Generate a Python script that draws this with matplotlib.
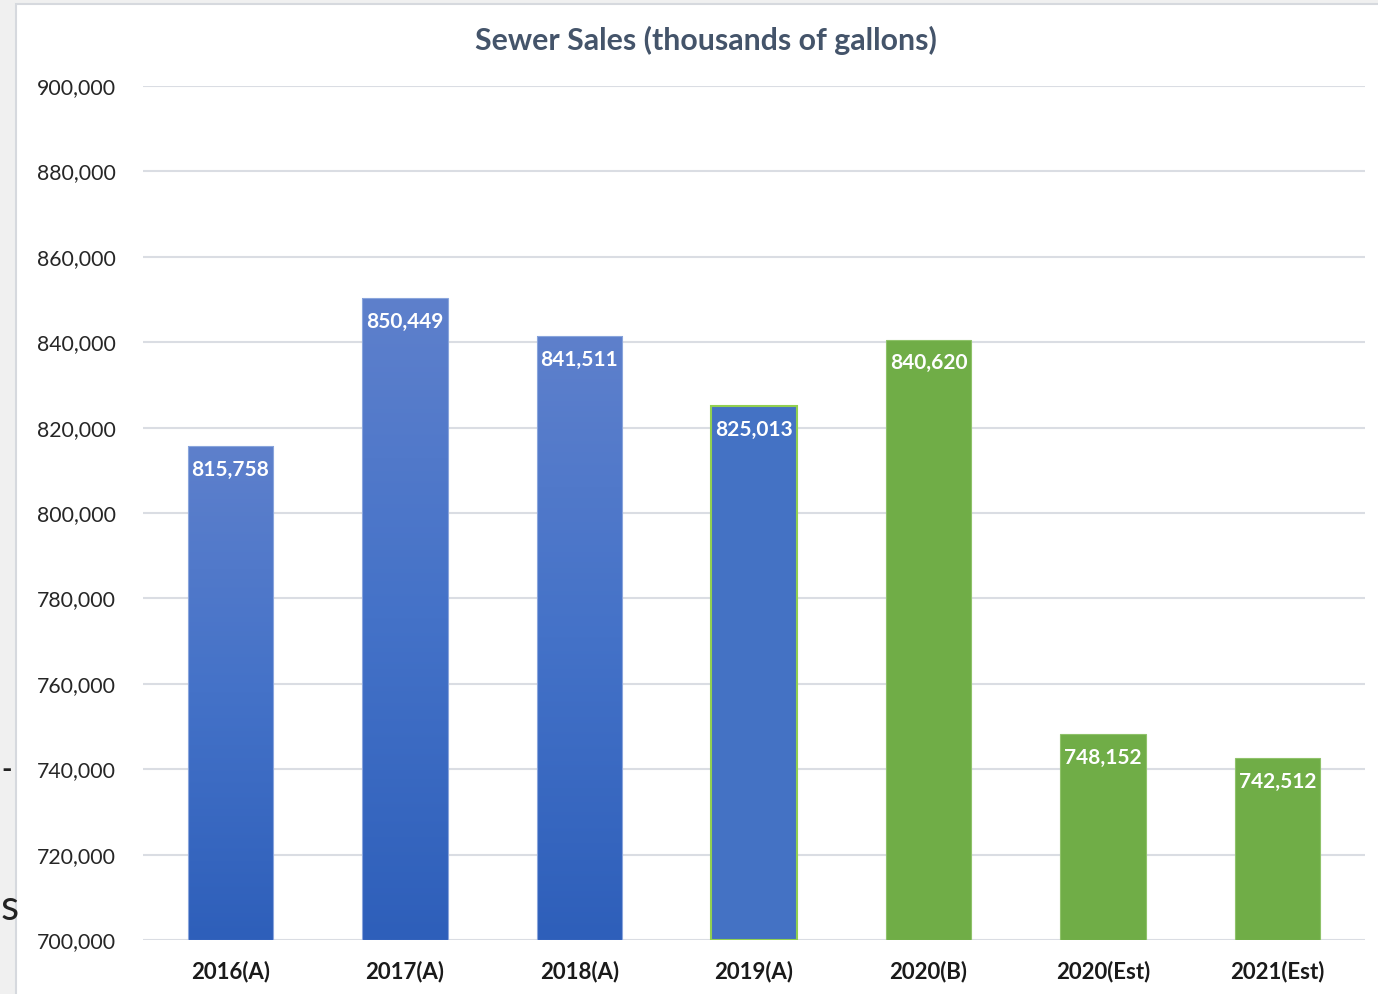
import matplotlib
matplotlib.use("Agg")
import matplotlib.pyplot as plt
import numpy as np
from matplotlib.patches import Rectangle
from matplotlib.colors import LinearSegmentedColormap

categories = ["2016(A)", "2017(A)", "2018(A)", "2019(A)", "2020(B)", "2020(Est)", "2021(Est)"]
values = [815758, 850449, 841511, 825013, 840620, 748152, 742512]
styles = ["gradient", "gradient", "gradient", "solid_blue", "green", "green", "green"]
yticks = list(range(700000, 900001, 20000))
title = "Sewer Sales (thousands of gallons)"

plt.rcParams['font.family'] = ['Lato', 'DejaVu Sans']

W, H = 1378, 994
fig = plt.figure(figsize=(W / 100, H / 100), dpi=100)
fig.patch.set_facecolor("#f0f0f0")

# chart area panel
panel = Rectangle((16 / W, -0.01), 1.0, 1.01 - 4 / H, transform=fig.transFigure,
                  facecolor="white", edgecolor="#d6d9de", linewidth=1.5, zorder=-10)
fig.add_artist(panel)

ax = fig.add_axes([143 / W, 1 - 940 / H, (1365 - 143) / W, (940 - 86) / H])
ax.set_facecolor("none")
ax.set_xlim(-0.5, len(categories) - 0.5)
ax.set_ylim(700000, 900000)
ax.set_yticks(yticks)
ax.set_yticklabels([f"{v:,}" for v in yticks], fontsize=15.3, color="#262626")
ax.set_xticks(range(len(categories)))
ax.set_xticklabels(categories, fontsize=16, fontweight="bold", color="#1a1a1a")
ax.tick_params(axis="both", length=0)
ax.tick_params(axis="y", pad=19.5)
ax.tick_params(axis="x", pad=15)
ax.grid(axis="y", color="#dadde3", linewidth=1.5)
ax.set_axisbelow(True)
for s in ax.spines.values():
    s.set_visible(False)

grad = LinearSegmentedColormap.from_list("g", ["#2e5fba", "#4472c8", "#5e80cc"])
bw = 0.49
for i, (v, st) in enumerate(zip(values, styles)):
    x0 = i - bw / 2
    if st == "gradient":
        r = Rectangle((x0, 700000), bw, v - 700000, facecolor="none", edgecolor="#8aa5dc",
                      linewidth=0.8, zorder=3)
        ax.add_patch(r)
        img = np.linspace(0, 1, 256).reshape(-1, 1)
        im = ax.imshow(img, cmap=grad, origin="lower", aspect="auto",
                       extent=(x0, x0 + bw, 700000, v), zorder=2)
        im.set_clip_path(r)
    elif st == "solid_blue":
        ax.bar(i, v - 700000, bottom=700000, width=bw, color="#4472c4",
               edgecolor="#92d050", linewidth=1.5, zorder=2)
    else:
        ax.bar(i, v - 700000, bottom=700000, width=bw, color="#70ad47",
               edgecolor="#8fc26a", linewidth=0.8, zorder=2)
    ax.annotate(f"{v:,}", (i, v), xytext=(0, -10), textcoords="offset points",
                ha="center", va="top", color="white", fontsize=15, fontweight="bold", zorder=5)

ax.set_xlim(-0.5, len(categories) - 0.5)
ax.set_ylim(700000, 900000)

fig.text(706 / W, 1 - 40 / H, title, ha="center", va="center", fontsize=21.8,
         fontweight="bold", color="#44546a")

# fragments at left edge of the screenshot
fig.text(1 / W, 1 - 770 / H, "-", ha="left", va="center", fontsize=20, fontweight="bold",
         color="#222222")
fig.text(1 / W, 1 - 908 / H, "s", ha="left", va="center", fontsize=30, color="#222222")

fig.savefig("out.png", dpi=100, facecolor=fig.get_facecolor())
